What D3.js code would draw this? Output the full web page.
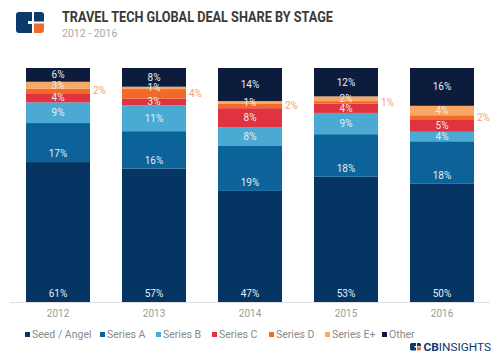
<!DOCTYPE html>
<html><head><meta charset="utf-8">
<script src="https://cdn.jsdelivr.net/npm/d3@7"></script>
<style>body{margin:0;background:#fff;} svg{display:block;font-family:Roboto,"Noto Sans",sans-serif;}</style>
</head><body>
<svg id="c" width="500" height="357"></svg>
<script>
const years = ["2012","2013","2014","2015","2016"];
const seriesNames = ["Seed / Angel","Series A","Series B","Series C","Series D","Series E+","Other"];
const seedAngel = [61,57,47,53,50];
const seriesA   = [17,16,19,18,18];
const seriesB   = [9,11,8,9,4];
const seriesC   = [4,3,8,4,5];
const seriesD   = [2,4,2,1,2];
const seriesE   = [3,1,1,2,4];
const other     = [6,8,14,12,16];
const colors = ["#073563","#0b6399","#4aaad3","#e0323f","#f26a2a","#f8a764","#0b1c3c"];

const values = [seedAngel,seriesA,seriesB,seriesC,seriesD,seriesE,other];
const table = years.map((y,i)=>{const o={year:y}; seriesNames.forEach((s,j)=>o[s]=values[j][i]); return o;});
const stack = d3.stack().keys(seriesNames).offset(d3.stackOffsetExpand)(table);

const svg = d3.select("#c");
const x = d3.scaleBand().domain(years).range([10,490]).paddingInner(1/3).paddingOuter(1/6);
const y = d3.scaleLinear().domain([0,1]).range([302,68]);

// header logo
const lg = svg.append("g");
lg.append("path").attr("d","M19,12 H32 V21 H28 V24 H32 V33 H19 Q16,33 16,30 V15 Q16,12 19,12 Z").attr("fill","#0b3a6b");
lg.append("path").attr("d","M34,12 H41 Q44,12 44,15 V21.5 H34 Z").attr("fill","#0b3a6b");
lg.append("path").attr("d","M34,23.5 H44 V30 Q44,33 41,33 H34 Z").attr("fill","#f26a2a");

svg.append("text").attr("x",62).attr("y",22).attr("font-size",15.5).attr("font-weight",700)
  .attr("fill","#3a3a3a").attr("textLength",271).attr("lengthAdjust","spacingAndGlyphs")
  .text("TRAVEL TECH GLOBAL DEAL SHARE BY STAGE");
svg.append("text").attr("x",62).attr("y",37).attr("font-size",10.5).attr("fill","#a8a8a8").text("2012 - 2016");

// bars
const g = svg.append("g");
stack.forEach((layer,j)=>{
  g.selectAll(null).data(layer).enter().append("rect")
    .attr("x",d=>x(d.data.year)).attr("width",x.bandwidth())
    .attr("y",d=>y(d[1])).attr("height",d=>y(d[0])-y(d[1]))
    .attr("fill",colors[j]);
});
// axis line
svg.append("line").attr("x1",10).attr("x2",490).attr("y1",y(0)+0.5).attr("y2",y(0)+0.5).attr("stroke","#e2e2e2");

// labels
stack.forEach((layer,j)=>{
  const name = seriesNames[j];
  layer.forEach((d,i)=>{
    const v = values[j][i];
    const top=y(d[1]), bot=y(d[0]);
    if(name==="Series D"){
      svg.append("text").attr("x",x(d.data.year)+x.bandwidth()+3).attr("y",(top+bot)/2+3.5)
        .attr("font-size",10).attr("fill","#f4a07c").text(v+"%");
    } else {
      const base = (name==="Seed / Angel"||name==="Series A");
      const cy = base ? bot-8.5 : (top+bot)/2;
      svg.append("text").attr("x",x(d.data.year)+x.bandwidth()/2).attr("y",cy+3.5)
        .attr("text-anchor","middle").attr("font-size",10).attr("fill","#e6ecf3").text(v+"%");
    }
  });
});

// x axis labels
const xa = svg.append("g").attr("transform","translate(0,302)").call(d3.axisBottom(x).tickSize(0).tickPadding(8));
xa.select(".domain").remove();
xa.selectAll("text").attr("font-size",10).attr("fill","#9a9a9a").attr("font-family","Roboto,sans-serif");

// legend
const legX = [25,100,156,212,269,325,382];
seriesNames.forEach((s,j)=>{
  svg.append("rect").attr("x",legX[j]).attr("y",332).attr("width",5).attr("height",5).attr("fill",colors[j]);
  svg.append("text").attr("x",legX[j]+7).attr("y",337.5).attr("font-size",10.5).attr("fill","#8a8a8a").text(s);
});

// footer logo
const fl = svg.append("g");
fl.append("path").attr("d","M411.5,343 H416 V346 H414.5 V347.5 H416 V350.5 H411.5 Q410,350.5 410,349 V344.5 Q410,343 411.5,343 Z").attr("fill","#0b3a6b");
fl.append("path").attr("d","M417,343 H419.5 Q421,343 421,344.5 V346.2 H417 Z").attr("fill","#0b3a6b");
fl.append("path").attr("d","M417,347.2 H421 V349 Q421,350.5 419.5,350.5 H417 Z").attr("fill","#f26a2a");
const ft = fl.append("text").attr("x",423.5).attr("y",350.5).attr("font-size",10).attr("fill","#0b3a6b")
  .attr("textLength",67.5).attr("lengthAdjust","spacingAndGlyphs");
ft.append("tspan").attr("font-weight",700).text("CB");
ft.append("tspan").text("INSIGHTS");
</script>
</body></html>
